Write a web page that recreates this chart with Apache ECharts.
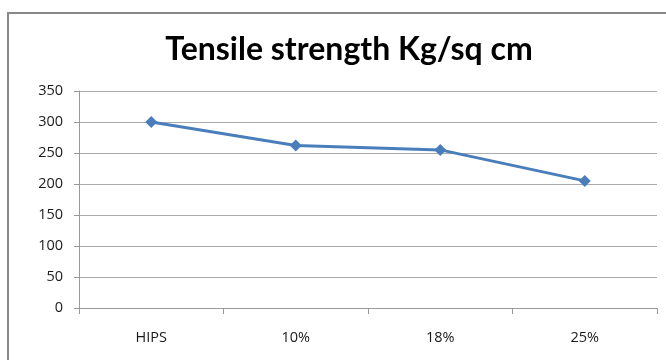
<!DOCTYPE html>
<html><head><meta charset="utf-8">
<script src="https://cdn.jsdelivr.net/npm/echarts@6/dist/echarts.min.js"></script>
<style>html,body{margin:0;padding:0;background:#fff}#c{width:666px;height:360px}</style>
</head><body><div id="c"></div>
<script>
const titleText = 'Tensile strength Kg/sq cm';
const categories = ['HIPS', '10%', '18%', '25%'];
const values = [300, 262, 255, 205];
const yMin = 0, yMax = 350, yStep = 50;

const chart = echarts.init(document.getElementById('c'), null, {renderer: 'canvas'});
chart.setOption({
  animation: false,
  backgroundColor: '#fff',
  title: {
    text: titleText, left: 344, top: 29, textAlign: 'center',
    textStyle: {fontFamily: 'Lato', fontWeight: 'bold', fontSize: 32, color: '#000'}
  },
  graphic: [{
    type: 'rect', shape: {x: 8, y: 13, width: 700, height: 400},
    style: {fill: 'none', stroke: '#888', lineWidth: 2}, silent: true
  }],
  grid: {left: 79, right: 9, top: 91, bottom: 52, containLabel: false},
  xAxis: {
    type: 'category', data: categories, boundaryGap: true,
    axisLine: {lineStyle: {color: '#999', width: 1}},
    axisTick: {show: true, length: 6, alignWithLabel: false, lineStyle: {color: '#999'}},
    axisLabel: {color: '#1a1a1a', fontFamily: 'Open Sans', fontSize: 14.5, margin: 22}
  },
  yAxis: {
    type: 'value', min: yMin, max: yMax, interval: yStep,
    axisLine: {show: true, lineStyle: {color: '#999'}},
    axisTick: {show: true, length: 5, lineStyle: {color: '#999'}},
    axisLabel: {color: '#1a1a1a', fontFamily: 'Open Sans', fontSize: 14.5, margin: 16},
    splitLine: {lineStyle: {color: '#aaa', width: 1}}
  },
  series: [{
    type: 'line', data: values,
    symbol: 'diamond', symbolSize: 12,
    lineStyle: {color: '#4A7EBB', width: 3},
    itemStyle: {color: '#4A7EBB'}
  }]
});
</script></body></html>
